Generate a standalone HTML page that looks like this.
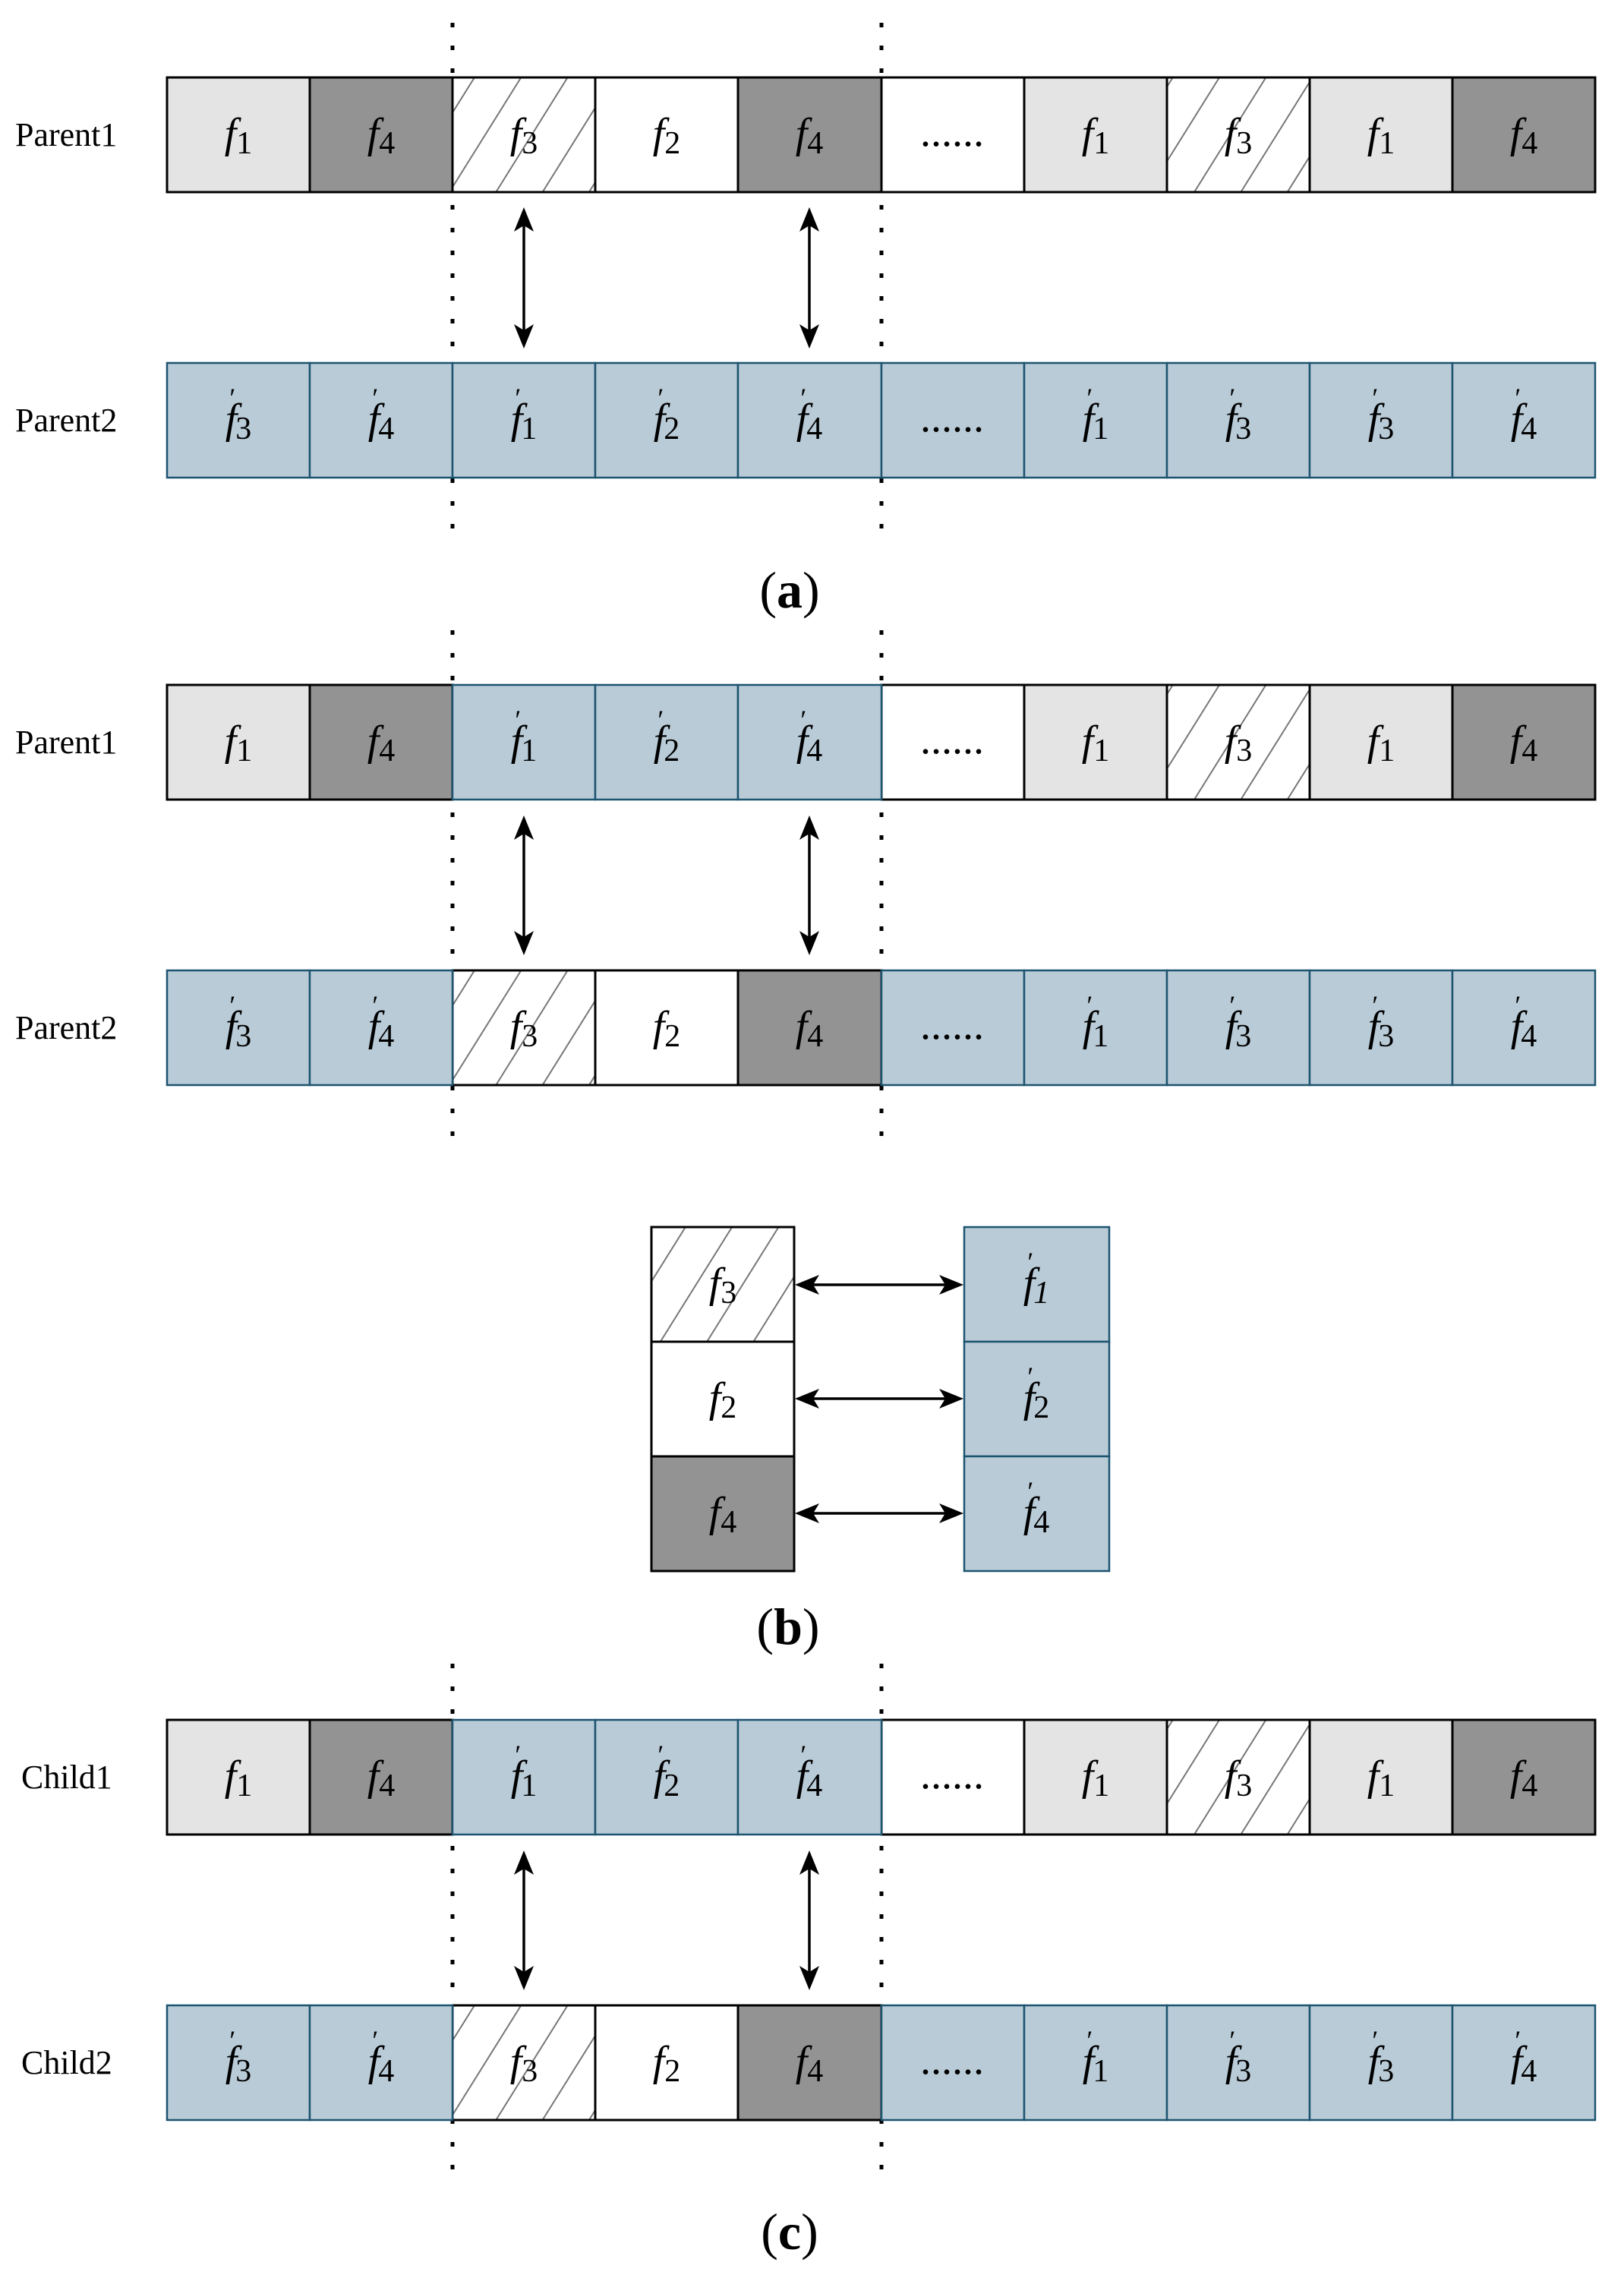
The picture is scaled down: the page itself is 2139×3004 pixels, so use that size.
<!DOCTYPE html>
<html><head><meta charset="utf-8"><style>html,body{margin:0;padding:0;background:#fff}</style></head><body>
<svg xmlns="http://www.w3.org/2000/svg" width="2139" height="2999" viewBox="0 0 2139 2999" font-family="Liberation Serif, serif">
<defs>
<pattern id="h" patternUnits="userSpaceOnUse" width="52" height="52" patternTransform="rotate(32)"><rect width="52" height="52" fill="#fff"/><line x1="10" y1="0" x2="10" y2="52" stroke="#777" stroke-width="2"/></pattern>
<g id="up"><polygon points="0,0 -13,32 0,24 13,32" fill="#000"/></g>
</defs>
<style>
.L{fill:#e4e4e4;stroke:#000;stroke-width:3}.D{fill:#939393;stroke:#000;stroke-width:3}.W{fill:#fff;stroke:#000;stroke-width:3}.H{fill:url(#h);stroke:#000;stroke-width:3}.B{fill:#b9cbd7;stroke:#1d5470;stroke-width:2.5}
text.t{font-size:56px;text-anchor:middle}.i{font-style:italic}.s{font-size:42px}.p{font-size:36px}
.lab{font-size:44px}.cap{font-size:68px;text-anchor:middle}
.dot{stroke:#000;stroke-width:5;stroke-dasharray:6 24}
.ar{stroke:#000;stroke-width:3.5}
</style>

<!-- dotted lines -->
<line class="dot" x1="596" y1="30" x2="596" y2="696"/><line class="dot" x1="1161" y1="30" x2="1161" y2="696"/>
<line class="dot" x1="596" y1="830" x2="596" y2="1498"/><line class="dot" x1="1161" y1="830" x2="1161" y2="1498"/>
<line class="dot" x1="596" y1="2191" x2="596" y2="2860"/><line class="dot" x1="1161" y1="2191" x2="1161" y2="2860"/>

<!-- ROW A1 -->
<g transform="translate(0,102)">
<text class="lab" x="20" y="90">Parent1</text>
<rect class="L" x="220" y="0" width="188" height="151"/><rect class="D" x="408" y="0" width="188" height="151"/><rect class="H" x="596" y="0" width="188" height="151"/><rect class="W" x="784" y="0" width="188" height="151"/><rect class="D" x="972" y="0" width="189" height="151"/><rect class="W" x="1161" y="0" width="188" height="151"/><rect class="L" x="1349" y="0" width="188" height="151"/><rect class="H" x="1537" y="0" width="188" height="151"/><rect class="L" x="1725" y="0" width="188" height="151"/><rect class="D" x="1913" y="0" width="188" height="151"/>
<text class="t" x="314" y="92"><tspan class="i">f</tspan><tspan class="s" dy="8">1</tspan></text>
<text class="t" x="502" y="92"><tspan class="i">f</tspan><tspan class="s" dy="8">4</tspan></text>
<text class="t" x="690" y="92"><tspan class="i">f</tspan><tspan class="s" dy="8">3</tspan></text>
<text class="t" x="878" y="92"><tspan class="i">f</tspan><tspan class="s" dy="8">2</tspan></text>
<text class="t" x="1066" y="92"><tspan class="i">f</tspan><tspan class="s" dy="8">4</tspan></text>
<text class="t" x="1254" y="90">......</text>
<text class="t" x="1443" y="92"><tspan class="i">f</tspan><tspan class="s" dy="8">1</tspan></text>
<text class="t" x="1631" y="92"><tspan class="i">f</tspan><tspan class="s" dy="8">3</tspan></text>
<text class="t" x="1819" y="92"><tspan class="i">f</tspan><tspan class="s" dy="8">1</tspan></text>
<text class="t" x="2007" y="92"><tspan class="i">f</tspan><tspan class="s" dy="8">4</tspan></text>
</g>

<!-- ROW A2 -->
<g transform="translate(0,478)">
<text class="lab" x="20" y="90">Parent2</text>
<rect class="B" x="220" y="0" width="188" height="151"/><rect class="B" x="408" y="0" width="188" height="151"/><rect class="B" x="596" y="0" width="188" height="151"/><rect class="B" x="784" y="0" width="188" height="151"/><rect class="B" x="972" y="0" width="189" height="151"/><rect class="B" x="1161" y="0" width="188" height="151"/><rect class="B" x="1349" y="0" width="188" height="151"/><rect class="B" x="1537" y="0" width="188" height="151"/><rect class="B" x="1725" y="0" width="188" height="151"/><rect class="B" x="1913" y="0" width="188" height="151"/>
<text class="t" x="314" y="92"><tspan class="i">f</tspan><tspan class="p" dx="-10" dy="-34">′</tspan><tspan class="s" dy="42">3</tspan></text>
<text class="t" x="502" y="92"><tspan class="i">f</tspan><tspan class="p" dx="-10" dy="-34">′</tspan><tspan class="s" dy="42">4</tspan></text>
<text class="t" x="690" y="92"><tspan class="i">f</tspan><tspan class="p" dx="-10" dy="-34">′</tspan><tspan class="s" dy="42">1</tspan></text>
<text class="t" x="878" y="92"><tspan class="i">f</tspan><tspan class="p" dx="-10" dy="-34">′</tspan><tspan class="s" dy="42">2</tspan></text>
<text class="t" x="1066" y="92"><tspan class="i">f</tspan><tspan class="p" dx="-10" dy="-34">′</tspan><tspan class="s" dy="42">4</tspan></text>
<text class="t" x="1254" y="90">......</text>
<text class="t" x="1443" y="92"><tspan class="i">f</tspan><tspan class="p" dx="-10" dy="-34">′</tspan><tspan class="s" dy="42">1</tspan></text>
<text class="t" x="1631" y="92"><tspan class="i">f</tspan><tspan class="p" dx="-10" dy="-34">′</tspan><tspan class="s" dy="42">3</tspan></text>
<text class="t" x="1819" y="92"><tspan class="i">f</tspan><tspan class="p" dx="-10" dy="-34">′</tspan><tspan class="s" dy="42">3</tspan></text>
<text class="t" x="2007" y="92"><tspan class="i">f</tspan><tspan class="p" dx="-10" dy="-34">′</tspan><tspan class="s" dy="42">4</tspan></text>
</g>

<!-- arrows a -->
<line class="ar" x1="690" y1="285" x2="690" y2="447"/><use href="#up" x="690" y="273"/><use href="#up" transform="translate(690,459) scale(1,-1)"/>
<line class="ar" x1="1066" y1="285" x2="1066" y2="447"/><use href="#up" x="1066" y="273"/><use href="#up" transform="translate(1066,459) scale(1,-1)"/>
<text class="cap" x="1040" y="800">(<tspan font-weight="bold">a</tspan>)</text>

<!-- ROW B1 / C1 template -->
<g id="r1" transform="translate(0,902)">
<rect class="L" x="220" y="0" width="188" height="151"/><rect class="D" x="408" y="0" width="188" height="151"/><rect class="W" x="1161" y="0" width="188" height="151"/><rect class="L" x="1349" y="0" width="188" height="151"/><rect class="H" x="1537" y="0" width="188" height="151"/><rect class="L" x="1725" y="0" width="188" height="151"/><rect class="D" x="1913" y="0" width="188" height="151"/>
<rect class="B" x="596" y="0" width="188" height="151"/><rect class="B" x="784" y="0" width="188" height="151"/><rect class="B" x="972" y="0" width="189" height="151"/>
<text class="t" x="314" y="92"><tspan class="i">f</tspan><tspan class="s" dy="8">1</tspan></text>
<text class="t" x="502" y="92"><tspan class="i">f</tspan><tspan class="s" dy="8">4</tspan></text>
<text class="t" x="690" y="92"><tspan class="i">f</tspan><tspan class="p" dx="-10" dy="-34">′</tspan><tspan class="s" dy="42">1</tspan></text>
<text class="t" x="878" y="92"><tspan class="i">f</tspan><tspan class="p" dx="-10" dy="-34">′</tspan><tspan class="s" dy="42">2</tspan></text>
<text class="t" x="1066" y="92"><tspan class="i">f</tspan><tspan class="p" dx="-10" dy="-34">′</tspan><tspan class="s" dy="42">4</tspan></text>
<text class="t" x="1254" y="90">......</text>
<text class="t" x="1443" y="92"><tspan class="i">f</tspan><tspan class="s" dy="8">1</tspan></text>
<text class="t" x="1631" y="92"><tspan class="i">f</tspan><tspan class="s" dy="8">3</tspan></text>
<text class="t" x="1819" y="92"><tspan class="i">f</tspan><tspan class="s" dy="8">1</tspan></text>
<text class="t" x="2007" y="92"><tspan class="i">f</tspan><tspan class="s" dy="8">4</tspan></text>
</g>
<text class="lab" x="20" y="992">Parent1</text>

<!-- ROW B2 / C2 template -->
<g id="r2" transform="translate(0,1278)">
<rect class="H" x="596" y="0" width="188" height="151"/><rect class="W" x="784" y="0" width="188" height="151"/><rect class="D" x="972" y="0" width="189" height="151"/>
<rect class="B" x="220" y="0" width="188" height="151"/><rect class="B" x="408" y="0" width="188" height="151"/><rect class="B" x="1161" y="0" width="188" height="151"/><rect class="B" x="1349" y="0" width="188" height="151"/><rect class="B" x="1537" y="0" width="188" height="151"/><rect class="B" x="1725" y="0" width="188" height="151"/><rect class="B" x="1913" y="0" width="188" height="151"/>
<text class="t" x="314" y="92"><tspan class="i">f</tspan><tspan class="p" dx="-10" dy="-34">′</tspan><tspan class="s" dy="42">3</tspan></text>
<text class="t" x="502" y="92"><tspan class="i">f</tspan><tspan class="p" dx="-10" dy="-34">′</tspan><tspan class="s" dy="42">4</tspan></text>
<text class="t" x="690" y="92"><tspan class="i">f</tspan><tspan class="s" dy="8">3</tspan></text>
<text class="t" x="878" y="92"><tspan class="i">f</tspan><tspan class="s" dy="8">2</tspan></text>
<text class="t" x="1066" y="92"><tspan class="i">f</tspan><tspan class="s" dy="8">4</tspan></text>
<text class="t" x="1254" y="90">......</text>
<text class="t" x="1443" y="92"><tspan class="i">f</tspan><tspan class="p" dx="-10" dy="-34">′</tspan><tspan class="s" dy="42">1</tspan></text>
<text class="t" x="1631" y="92"><tspan class="i">f</tspan><tspan class="p" dx="-10" dy="-34">′</tspan><tspan class="s" dy="42">3</tspan></text>
<text class="t" x="1819" y="92"><tspan class="i">f</tspan><tspan class="p" dx="-10" dy="-34">′</tspan><tspan class="s" dy="42">3</tspan></text>
<text class="t" x="2007" y="92"><tspan class="i">f</tspan><tspan class="p" dx="-10" dy="-34">′</tspan><tspan class="s" dy="42">4</tspan></text>
</g>
<text class="lab" x="20" y="1368">Parent2</text>

<line class="ar" x1="690" y1="1086" x2="690" y2="1246"/><use href="#up" x="690" y="1074"/><use href="#up" transform="translate(690,1258) scale(1,-1)"/>
<line class="ar" x1="1066" y1="1086" x2="1066" y2="1246"/><use href="#up" x="1066" y="1074"/><use href="#up" transform="translate(1066,1258) scale(1,-1)"/>

<!-- panel b -->
<rect class="H" x="858" y="1616" width="188" height="151"/><rect class="W" x="858" y="1767" width="188" height="151"/><rect class="D" x="858" y="1918" width="188" height="151"/>
<rect class="B" x="1270" y="1616" width="191" height="151"/><rect class="B" x="1270" y="1767" width="191" height="151"/><rect class="B" x="1270" y="1918" width="191" height="151"/>
<text class="t" x="952" y="1708"><tspan class="i">f</tspan><tspan class="s" dy="8">3</tspan></text>
<text class="t" x="952" y="1859"><tspan class="i">f</tspan><tspan class="s" dy="8">2</tspan></text>
<text class="t" x="952" y="2010"><tspan class="i">f</tspan><tspan class="s" dy="8">4</tspan></text>
<text class="t" x="1365" y="1708"><tspan class="i">f</tspan><tspan class="p" dx="-10" dy="-34">′</tspan><tspan class="s i" dy="42">1</tspan></text>
<text class="t" x="1365" y="1859"><tspan class="i">f</tspan><tspan class="p" dx="-10" dy="-34">′</tspan><tspan class="s" dy="42">2</tspan></text>
<text class="t" x="1365" y="2010"><tspan class="i">f</tspan><tspan class="p" dx="-10" dy="-34">′</tspan><tspan class="s" dy="42">4</tspan></text>
<g>
<line class="ar" x1="1060" y1="1692" x2="1256" y2="1692"/><use href="#up" transform="translate(1047,1692) rotate(-90)"/><use href="#up" transform="translate(1269,1692) rotate(90)"/>
<line class="ar" x1="1060" y1="1842" x2="1256" y2="1842"/><use href="#up" transform="translate(1047,1842) rotate(-90)"/><use href="#up" transform="translate(1269,1842) rotate(90)"/>
<line class="ar" x1="1060" y1="1993" x2="1256" y2="1993"/><use href="#up" transform="translate(1047,1993) rotate(-90)"/><use href="#up" transform="translate(1269,1993) rotate(90)"/>
</g>
<text class="cap" x="1038" y="2165">(<tspan font-weight="bold">b</tspan>)</text>

<!-- panel c -->
<use href="#r1" transform="translate(0,1363)"/>
<use href="#r2" transform="translate(0,1363)"/>
<text class="lab" x="28" y="2355">Child1</text>
<text class="lab" x="28" y="2731">Child2</text>
<line class="ar" x1="690" y1="2449" x2="690" y2="2609"/><use href="#up" x="690" y="2437"/><use href="#up" transform="translate(690,2621) scale(1,-1)"/>
<line class="ar" x1="1066" y1="2449" x2="1066" y2="2609"/><use href="#up" x="1066" y="2437"/><use href="#up" transform="translate(1066,2621) scale(1,-1)"/>
<text class="cap" x="1040" y="2962">(<tspan font-weight="bold">c</tspan>)</text>
</svg>
</body></html>
